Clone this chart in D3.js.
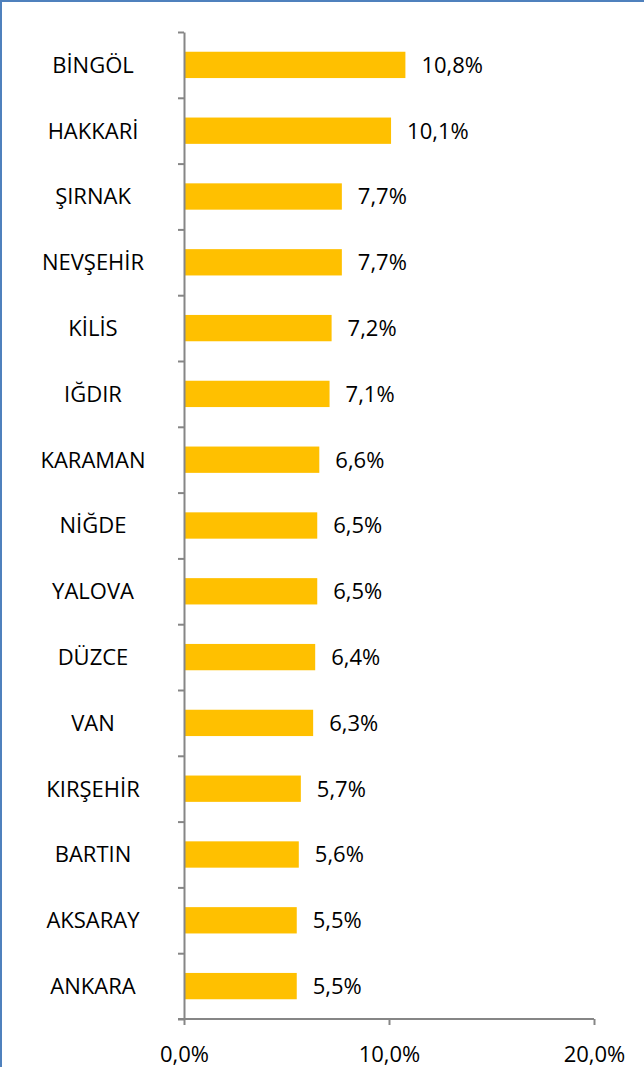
<!DOCTYPE html>
<html>
<head>
<meta charset="utf-8">
<script src="https://cdn.jsdelivr.net/npm/d3@7"></script>
<style>
  body { margin: 0; background: #fff; }
  svg { display: block; }
  text { font-family: "Open Sans", sans-serif; fill: #000; }
</style>
</head>
<body>
<div id="chart"></div>
<script>
// data
const provinces = ['BİNGÖL', 'HAKKARİ', 'ŞIRNAK', 'NEVŞEHİR', 'KİLİS', 'IĞDIR', 'KARAMAN', 'NİĞDE',
  'YALOVA', 'DÜZCE', 'VAN', 'KIRŞEHİR', 'BARTIN', 'AKSARAY', 'ANKARA'];
const rates = [10.8, 10.1, 7.7, 7.7, 7.2, 7.1, 6.6, 6.5, 6.5, 6.4, 6.3, 5.7, 5.6, 5.5, 5.5];
const xTicks = [0, 10, 20];

const width = 644, height = 1067;
const margin = {left: 184, top: 32, right: 50, bottom: 48};
const fmt = v => v.toFixed(1).replace('.', ',') + '%';

const svg = d3.select('#chart').append('svg')
  .attr('width', width)
  .attr('height', height);

// border (only top and left visible in the original)
svg.append('line').attr('x1', 0).attr('x2', width).attr('y1', 1).attr('y2', 1)
  .attr('stroke', '#4f81bd').attr('stroke-width', 2);
svg.append('line').attr('x1', 1).attr('x2', 1).attr('y1', 0).attr('y2', height)
  .attr('stroke', '#4f81bd').attr('stroke-width', 2);

// scales
const x = d3.scaleLinear().domain([0, 20]).range([margin.left, 594]);
const y = d3.scaleBand().domain(provinces).range([margin.top, 1019]).paddingInner(0.6).paddingOuter(0.3);
const yEdge = d3.scaleLinear().domain([0, provinces.length]).range([margin.top, 1019]);

// bars
svg.selectAll('rect.bar')
  .data(rates)
  .enter()
  .append('rect')
  .attr('class', 'bar')
  .attr('x', x(0))
  .attr('y', (d, i) => y(provinces[i]))
  .attr('width', d => x(d) - x(0))
  .attr('height', y.bandwidth())
  .attr('fill', '#ffc000');

// value labels
svg.selectAll('text.value')
  .data(rates)
  .enter()
  .append('text')
  .attr('class', 'value')
  .attr('x', d => x(d) + 16)
  .attr('y', (d, i) => y(provinces[i]) + y.bandwidth() / 2)
  .attr('dy', '0.36em')
  .attr('font-size', 22)
  .text(d => fmt(d));

// y axis: ticks at category boundaries
const yAxis = svg.append('g')
  .attr('transform', 'translate(' + x(0) + ',0)')
  .call(d3.axisLeft(yEdge).tickValues(d3.range(provinces.length + 1)).tickSize(6).tickSizeOuter(0).tickFormat(''));
yAxis.selectAll('line, path').attr('stroke', '#868686').attr('stroke-width', 2);

// category labels
svg.selectAll('text.cat')
  .data(provinces)
  .enter()
  .append('text')
  .attr('class', 'cat')
  .attr('x', 93)
  .attr('y', d => y(d) + y.bandwidth() / 2)
  .attr('dy', '0.36em')
  .attr('text-anchor', 'middle')
  .attr('font-size', 22)
  .text(d => d);

// x axis
const xAxis = svg.append('g')
  .attr('transform', 'translate(0,1019)')
  .call(d3.axisBottom(x).tickValues(xTicks).tickSize(6).tickSizeOuter(0).tickFormat(fmt));
xAxis.select('.domain').attr('d', 'M' + (x(0) - 6) + ',0H' + x(20));
xAxis.selectAll('line, path').attr('stroke', '#868686').attr('stroke-width', 2);
xAxis.selectAll('text')
  .attr('font-family', '"Open Sans", sans-serif')
  .attr('font-size', 22)
  .attr('fill', '#000')
  .attr('y', 27)
  .attr('dy', '0.71em');
</script>
</body>
</html>
